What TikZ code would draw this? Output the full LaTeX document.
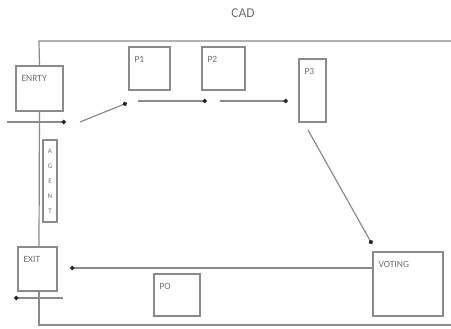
\documentclass[tikz,border=0pt]{standalone}
\usepackage{fontspec}
\setmainfont{Carlito}
\usetikzlibrary{arrows.meta,calc}
\definecolor{ligne}{HTML}{8A8A8A}
\definecolor{texte}{HTML}{6E6E6E}
\tikzset{boite/.style={
    draw=ligne,
    line width=1.3pt,
    inner sep=0pt}}
\tikzset{lbl/.style={
    anchor=north west,
    inner sep=0pt,
    xshift=6pt,
    yshift=-10pt,
    text=texte,
    font=\fontsize{9.5}{10}\selectfont}}
\tikzset{fleche/.style={
    draw=ligne,
    line width=1.2pt,
    -{Circle[length=4.5pt,black!85]}}}
\tikzset{cadre/.style={
    draw=ligne,
    line width=1.2pt}}

\begin{document}
\begin{tikzpicture}[x=1pt,y=-1pt]
\useasboundingbox (0,0) rectangle (451,329);
\node[text=texte,font=\fontsize{13.5}{14}\selectfont] (titre) at (243,13) {CAD};

\coordinate (TL) at (39,41);
\coordinate (TR) at (451,41);
\coordinate (BL) at (39,325);
\coordinate (BR) at (451,325);

\node[boite,minimum width=47pt,minimum height=45pt,label={[lbl]north west:ENRTY}] (entry) at (39.5,88.5) {};
\node[boite,minimum width=41pt,minimum height=43pt,label={[lbl]north west:P1}] (p1) at (149.5,68.5) {};
\node[boite,minimum width=43pt,minimum height=43pt,label={[lbl]north west:P2}] (p2) at (223.5,68.5) {};
\node[boite,minimum width=27pt,minimum height=63pt,label={[lbl]north west:P3}] (p3) at (312.5,90.5) {};
\node[boite,minimum width=70pt,minimum height=64pt,label={[lbl]north west:VOTING}] (voting) at (408,284) {};
\node[boite,minimum width=39pt,minimum height=44pt,label={[lbl]north west:EXIT}] (exit) at (37.5,269) {};
\node[boite,minimum width=46pt,minimum height=42pt,label={[lbl]north west:PO}] (po) at (177,295) {};
\node[boite,minimum width=14pt,minimum height=82pt,text=texte,align=center,font=\fontsize{7}{15}\selectfont] (agent) at (50,181) {A\\G\\E\\N\\T};

% cadre
\path[cadre] (TR) -- (TL) -- (entry.north);
\path[cadre] (entry.south) -- (exit.north -| TL);
\path[cadre] (exit.south -| TL) -- (BL) -- (BR);

% fleches
\coordinate (A) at (7,122);
\coordinate (B) at (66,122);
\coordinate (C) at (80,122);
\coordinate (D) at (127,103);
\coordinate (E) at (138,101);
\coordinate (F) at (207,101);
\coordinate (G) at (220,101);
\coordinate (H) at (288,101);
\coordinate (I) at (308,130);
\coordinate (J) at (372,244);
\coordinate (K) at (70,268);
\coordinate (L) at (63,298);
\coordinate (M) at (14,298);

\path[fleche] (A) -- (B);
\path[fleche] (C) -- (D);
\path[fleche] (E) -- (F);
\path[fleche] (G) -- (H);
\path[fleche] (I) -- (J);
\path[fleche] (voting.west |- K) -- (K);
\path[fleche] (L) -- (M);
\end{tikzpicture}
\end{document}
